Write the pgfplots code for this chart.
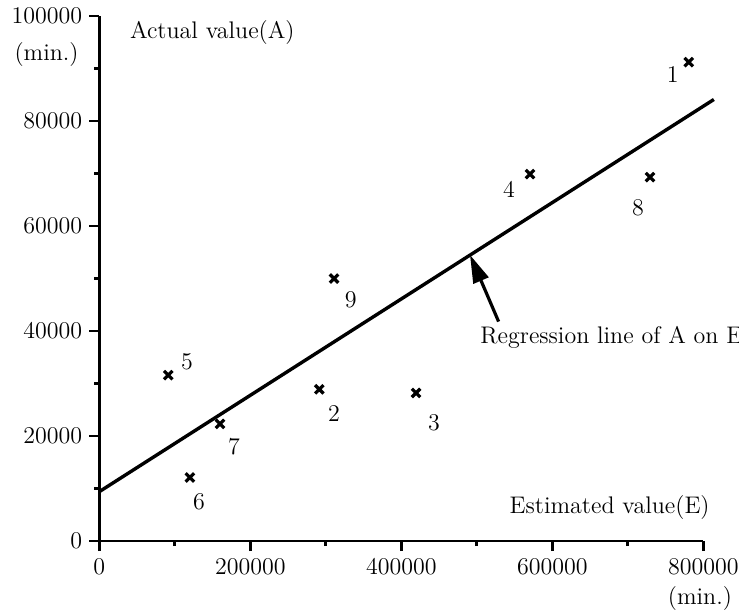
\documentclass[border=0pt]{standalone}
\usepackage{pgfplots}
\pgfplotsset{compat=1.18}
\usetikzlibrary{arrows.meta}
\begin{document}
\begin{tikzpicture}[font=\fontsize{12pt}{14pt}\selectfont]
\begin{axis}[
  scale only axis,
  width=302pt, height=262.5pt,
  xmin=0, xmax=800000, ymin=0, ymax=100000,
  axis x line*=bottom, axis y line*=left,
  axis line style={line width=1.4pt},
  scaled ticks=false,
  xtick={0,200000,400000,600000,800000},
  xticklabels={0,200000,400000,600000,800000},
  ytick={0,20000,40000,60000,80000,100000},
  yticklabels={0,20000,40000,60000,80000,100000},
  minor xtick={100000,300000,500000,700000},
  minor ytick={10000,30000,50000,70000,90000},
  tick align=outside,
  major tick length=5pt, minor tick length=2.5pt,
  every tick/.style={black, line width=1.3pt},
  clip=false,
]
% regression line of A on E
\addplot[black, line width=1.7pt] coordinates {(0,9400) (814000,84100)};
% observed pairs (E, A)
\addplot[only marks, black, mark=x, mark size=3pt, mark options={line width=1.6pt}] coordinates {
  (780700,91200) (291400,28900) (419500,28200) (570500,69900) (91400,31600)
  (120100,12100) (159900,22300) (729400,69300) (310900,50000)
};
% point numbers
\node at (axis cs:759500,88800) {1};
\node at (axis cs:310900,24200) {2};
\node at (axis cs:443300,22500) {3};
\node at (axis cs:542600,66900) {4};
\node at (axis cs:116200,34200) {5};
\node at (axis cs:132100,7500) {6};
\node at (axis cs:178400,18000) {7};
\node at (axis cs:713400,63400) {8};
\node at (axis cs:333000,45900) {9};
% axis captions and units
\node[anchor=base west] at (axis cs:31400,95800) {Actual value(A)};
\node[anchor=east, inner sep=0pt] at (axis cs:-26900,92600) {(min.)};
\node[anchor=base east, inner sep=0pt] at (axis cs:808900,5330) {Estimated value(E)};
\node at (axis cs:795600,-10900) {(min.)};
% annotation of the fitted line
\draw[-{Triangle[length=14pt,width=8pt]}, line width=1.6pt] (axis cs:528900,41800) -- (axis cs:491000,54500);
\node[anchor=base west, inner sep=0pt] at (axis cs:504200,37700) {Regression line of A on E};
\coordinate (bbsw) at (axis cs:-131500,-13710);
\coordinate (bbne) at (axis cs:847300,103050);
\end{axis}
\pgfresetboundingbox
\path[use as bounding box] (bbsw) rectangle (bbne);
\end{tikzpicture}
\end{document}
